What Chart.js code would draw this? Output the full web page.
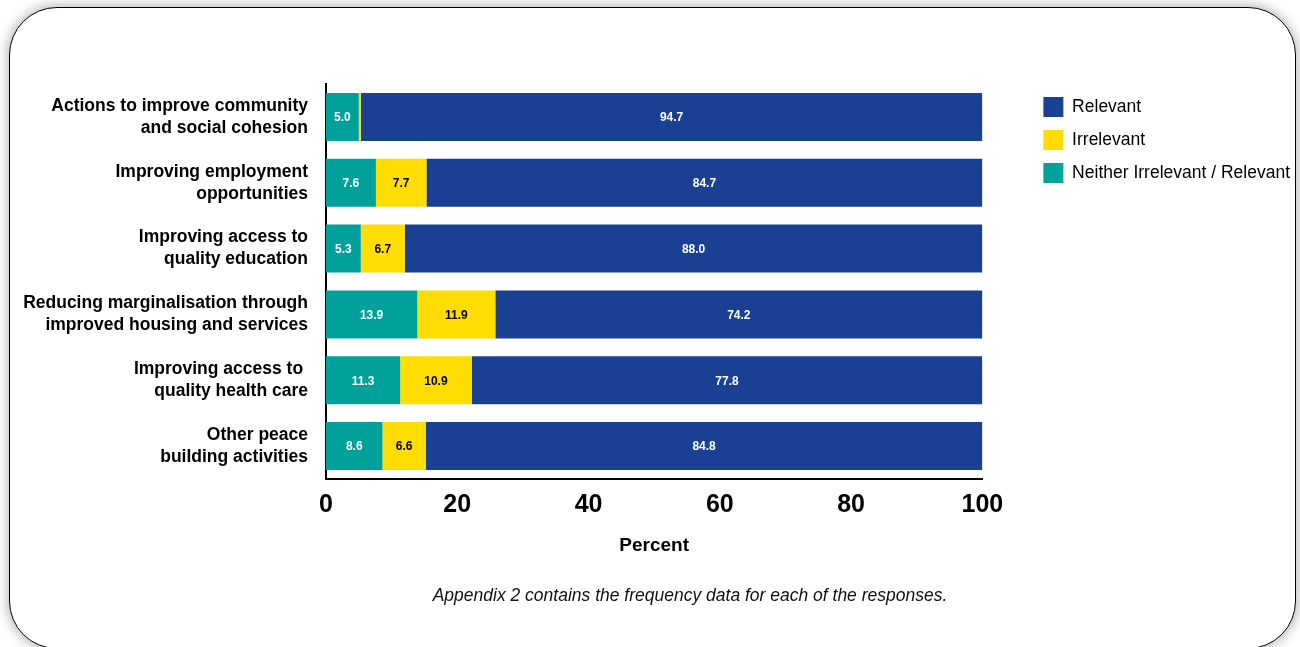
<!DOCTYPE html>
<html>
<head>
<meta charset="utf-8">
<script src="https://cdn.jsdelivr.net/npm/chart.js@4/dist/chart.umd.min.js"></script>
<style>
  html, body { margin: 0; padding: 0; background: #fff; }
  #wrap { position: relative; width: 1300px; height: 647px; overflow: hidden; }
  #frame {
    position: absolute; left: 9px; top: 7px; width: 1287px; height: 642px;
    box-sizing: border-box;
    border: 1.5px solid #000; border-radius: 48px;
    box-shadow: 0 0 12px 2px rgba(0, 0, 0, 0.28);
    background: #fff;
  }
  #chart { position: absolute; left: 0; top: 0; }
  #note {
    position: absolute; left: 0; width: 1380px; top: 585px;
    text-align: center; line-height: 20px;
    font: italic 17.5px "Liberation Sans", Arial, sans-serif; color: #111;
  }
</style>
</head>
<body>
<div id="wrap">
  <div id="frame"></div>
  <canvas id="chart" width="1300" height="647"></canvas>
  <div id="note">Appendix 2 contains the frequency data for each of the responses.</div>
</div>
<script>
const categories = [
    ['Actions to improve community', 'and social cohesion'],
    ['Improving employment', 'opportunities'],
    ['Improving access to', 'quality education'],
    ['Reducing marginalisation through', 'improved housing and services'],
    ['Improving access to ', 'quality health care'],
    ['Other peace', 'building activities']
];
const neitherValues = [5.0, 7.6, 5.3, 13.9, 11.3, 8.6];
const irrelevantValues = [0.3, 7.7, 6.7, 11.9, 10.9, 6.6];
const relevantValues = [94.7, 84.7, 88.0, 74.2, 77.8, 84.8];
const xTicks = [0, 20, 40, 60, 80, 100];

const fontFamily = '"Liberation Sans", Arial, sans-serif';

// keeps a gap between the plot and the legend on the right
const legendGap = {
    id: 'legendGap',
    beforeInit(chart) {
        Chart.layouts.addBox(chart, {
            position: 'right',
            weight: 500,
            fullSize: false,
            options: {},
            isHorizontal() { return false; },
            update(maxWidth, maxHeight) { this.width = 48; this.height = maxHeight; },
            draw() {}
        });
    }
};

// value labels in the middle of each segment
const barLabels = {
    id: 'barLabels',
    afterDatasetsDraw(chart) {
        const ctx = chart.ctx;
        ctx.save();
        ctx.font = 'bold 12px ' + fontFamily;
        ctx.textAlign = 'center';
        ctx.textBaseline = 'middle';
        chart.data.datasets.forEach((ds, i) => {
            chart.getDatasetMeta(i).data.forEach((bar, j) => {
                const v = ds.data[j];
                if (v < 1) return;
                ctx.fillStyle = ds.labelColor;
                ctx.fillText(v.toFixed(1), (bar.x + bar.base) / 2, bar.y + 1);
            });
        });
        ctx.restore();
    }
};

const ctx = document.getElementById('chart').getContext('2d');
const chart = new Chart(ctx, {
    type: 'bar',
    data: {
        labels: categories,
        datasets: [{
            label: 'Neither Irrelevant / Relevant',
            data: neitherValues,
            backgroundColor: '#00A19A',
            labelColor: '#fff',
            borderWidth: 0
        },
        {
            label: 'Irrelevant',
            data: irrelevantValues,
            backgroundColor: '#FFDD00',
            labelColor: '#000',
            borderWidth: 0
        },
        {
            label: 'Relevant',
            data: relevantValues,
            backgroundColor: '#1A4094',
            labelColor: '#fff',
            borderWidth: 0
        }]
    },
    options: {
        indexAxis: 'y',
        responsive: false,
        animation: false,
        barPercentage: 1,
        categoryPercentage: 0.73,
        layout: { padding: { left: 10, top: 84, right: 0, bottom: 0 } },
        plugins: {
            tooltip: { enabled: false },
            legend: {
                position: 'right',
                align: 'start',
                reverse: true,
                maxWidth: 300,
                labels: {
                    boxWidth: 20,
                    boxHeight: 20,
                    padding: 13,
                    color: '#000',
                    font: { family: fontFamily, size: 17.5, lineHeight: 1.2 }
                }
            }
        },
        scales: {
            x: {
                stacked: true,
                min: 0,
                max: 100,
                afterBuildTicks(s) { s.ticks = xTicks.map(v => ({ value: v })); },
                afterFit(s) { s.height = 168; },
                grid: { display: false, drawTicks: false },
                border: { display: true, color: '#000', width: 2 },
                ticks: {
                    padding: 11,
                    color: '#000',
                    font: { family: fontFamily, size: 25, weight: 'bold' }
                },
                title: {
                    display: true,
                    text: 'Percent',
                    color: '#000',
                    padding: { top: 0, bottom: 90 },
                    font: { family: fontFamily, size: 19, weight: 'bold' }
                }
            },
            y: {
                stacked: true,
                afterFit(s) { s.width = 316; },
                grid: { display: false, drawTicks: false },
                border: { display: true, color: '#000', width: 2 },
                ticks: {
                    padding: 18,
                    color: '#000',
                    font: { family: fontFamily, size: 17.5, weight: 'bold', lineHeight: 1.26 }
                }
            }
        }
    },
    plugins: [legendGap, barLabels]
});
</script>
</body>
</html>
